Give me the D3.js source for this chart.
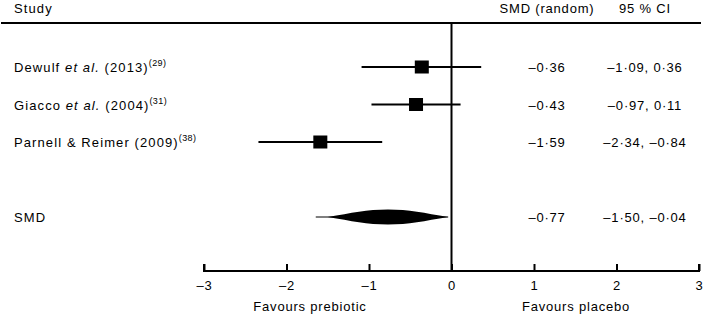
<!DOCTYPE html>
<html>
  <head>
    <meta charset="utf-8">
    <title>Forest plot</title>
    <script src="https://cdn.jsdelivr.net/npm/d3@7"></script>
    <style>
      body { margin: 0; background: #fff; }
      svg text { font-family: "Liberation Sans", Arial, sans-serif; font-size: 13px; letter-spacing: 0.8px; fill: #000; }
      svg text.lab { letter-spacing: 1.1px; }
    </style>
  </head>
  <body>
    <svg id="container" width="704" height="316"></svg>
    <script>
      // study rows
      const authors = ["Dewulf", "Giacco", "Parnell & Reimer"];
      const etAl = [true, true, false];
      const years = ["2013", "2004", "2009"];
      const refs = ["29", "31", "38"];
      const smd = [-0.36, -0.43, -1.59];
      const ciLow = [-1.09, -0.97, -2.34];
      const ciHigh = [0.36, 0.11, -0.84];
      // pooled estimate
      const pooled = { smd: -0.77, lo: -1.50, hi: -0.04 };
      const ticks = [-3, -2, -1, 0, 1, 2, 3];

      const svg = d3.select("#container");
      const fmt = v => (v < 0 ? "\u2013" : "") + Math.abs(v).toFixed(2).replace(".", "\u00b7");

      const x = d3.scaleLinear().domain([-3, 3]).range([204, 699]);
      const y = d3.scaleLinear().domain([0, 4]).range([67, 217]);
      const axisY = 271;
      const colSmd = 547, colCi = 645;

      // header
      svg.append("text").attr("class", "lab").attr("x", 14).attr("y", 13).text("Study");
      svg.append("text").attr("x", colSmd).attr("y", 13).attr("text-anchor", "middle").text("SMD (random)");
      svg.append("text").attr("x", colCi).attr("y", 13).attr("text-anchor", "middle").text("95 % CI");
      svg.append("line").attr("x1", 1).attr("x2", 701).attr("y1", 23).attr("y2", 23)
        .attr("stroke", "#000").attr("stroke-width", 2);

      // zero line
      svg.append("line").attr("x1", x(0)).attr("x2", x(0)).attr("y1", 23).attr("y2", axisY)
        .attr("stroke", "#000").attr("stroke-width", 2);

      const rows = svg.selectAll(".row").data(authors).enter().append("g").attr("class", "row");

      const label = rows.append("text").attr("class", "lab").attr("x", 14).attr("y", (d, i) => y(i) + 5);
      label.append("tspan").text((d, i) => d + (etAl[i] ? " " : " (" + years[i] + ")"));
      label.filter((d, i) => etAl[i]).append("tspan").attr("font-style", "italic").text("et al.");
      label.filter((d, i) => etAl[i]).append("tspan").text(d => " (" + years[authors.indexOf(d)] + ")");
      label.append("tspan").attr("dy", -6).style("font-size", "9px").style("letter-spacing", "0.4px")
        .text((d, i) => "(" + refs[i] + ")");

      rows.append("line")
        .attr("x1", (d, i) => x(ciLow[i])).attr("x2", (d, i) => x(ciHigh[i]))
        .attr("y1", (d, i) => y(i)).attr("y2", (d, i) => y(i))
        .attr("stroke", "#000").attr("stroke-width", 2);
      rows.append("rect")
        .attr("x", (d, i) => x(smd[i]) - 7).attr("y", (d, i) => y(i) - 6.5)
        .attr("width", 14).attr("height", 13).attr("fill", "#000");

      rows.append("text").attr("x", colSmd).attr("y", (d, i) => y(i) + 5).attr("text-anchor", "middle")
        .text((d, i) => fmt(smd[i]));
      rows.append("text").attr("x", colCi).attr("y", (d, i) => y(i) + 5).attr("text-anchor", "middle")
        .text((d, i) => fmt(ciLow[i]) + ", " + fmt(ciHigh[i]));

      // pooled diamond, a lens shape with thin tails
      const py = y(4);
      const xl = x(pooled.lo), xc = x(pooled.smd), xh = x(pooled.hi);
      const wl = xc - xl, wr = xh - xc, h = 7.5;
      svg.append("line").attr("x1", xl - 12).attr("x2", xh).attr("y1", py).attr("y2", py)
        .attr("stroke", "#000").attr("stroke-width", 1);
      svg.append("path")
        .attr("d", `M${xl},${py} C${xl + 0.4 * wl},${py - 4} ${xc - 0.35 * wl},${py - h} ${xc},${py - h}` +
                   ` C${xc + 0.35 * wr},${py - h} ${xh - 0.4 * wr},${py - 4} ${xh},${py}` +
                   ` C${xh - 0.4 * wr},${py + 4} ${xc + 0.35 * wr},${py + h} ${xc},${py + h}` +
                   ` C${xc - 0.35 * wl},${py + h} ${xl + 0.4 * wl},${py + 4} ${xl},${py}Z`)
        .attr("fill", "#000");
      svg.append("text").attr("class", "lab").attr("x", 14).attr("y", py + 5).text("SMD");
      svg.append("text").attr("x", colSmd).attr("y", py + 5).attr("text-anchor", "middle").text(fmt(pooled.smd));
      svg.append("text").attr("x", colCi).attr("y", py + 5).attr("text-anchor", "middle")
        .text(fmt(pooled.lo) + ", " + fmt(pooled.hi));

      // x axis
      const axis = d3.axisTop(x).tickValues(ticks).tickSize(7).tickFormat(d => (d < 0 ? "\u2013" : "") + Math.abs(d));
      const ax = svg.append("g").attr("transform", `translate(0,${axisY})`).call(axis);
      ax.select(".domain").attr("d", `M${x(-3)},-7V0H${x(3)}V-7`).attr("stroke-width", 2);
      ax.selectAll(".tick line").attr("stroke-width", 2);
      ax.selectAll(".tick text").attr("y", 19).attr("dy", 0)
        .style("font-size", "13px").style("font-family", "Liberation Sans, Arial, sans-serif");

      svg.append("text").attr("x", 310).attr("y", 311).attr("text-anchor", "middle").text("Favours prebiotic");
      svg.append("text").attr("x", 576).attr("y", 311).attr("text-anchor", "middle").text("Favours placebo");
    </script>
  </body>
</html>
